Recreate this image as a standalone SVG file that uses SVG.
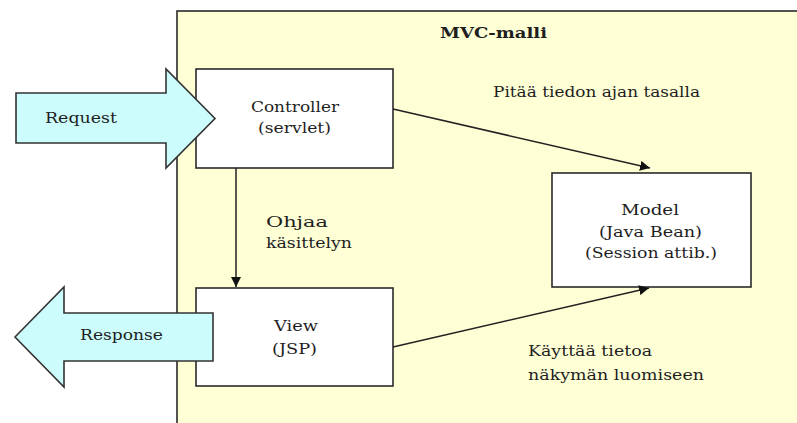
<svg xmlns="http://www.w3.org/2000/svg" width="797" height="423" viewBox="0 0 797 423">
<defs>
<style>
text{font-family:"DejaVu Serif","Liberation Serif",serif;font-size:15px;fill:#1e1e1e}
.b{font-weight:bold}
.box{fill:#ffffff;stroke:#2a2a2a;stroke-width:1.6}
.big{fill:#ffffd6;stroke:#2a2a2a;stroke-width:1.6}
.arrowbig{fill:#cdfcfc;stroke:#333333;stroke-width:1.6;stroke-linejoin:miter}
.con{stroke:#222;stroke-width:1.5;fill:none;marker-end:url(#ah)}
</style>
<marker id="ah" viewBox="0 0 10 10" refX="10" refY="5" markerWidth="10" markerHeight="10" markerUnits="userSpaceOnUse" orient="auto">
<path d="M0,0 L10,5 L0,10 z" fill="#111"/>
</marker>
</defs>
<rect width="797" height="423" fill="#ffffff"/>
<g id="mvc-frame">
<rect class="big" x="177" y="11" width="640" height="430"/>
<text class="b" x="440" y="38" textLength="107" lengthAdjust="spacingAndGlyphs">MVC-malli</text>
</g>
<g id="controller">
<rect class="box" x="196" y="69" width="197" height="99"/>
<text x="251" y="112" textLength="88" lengthAdjust="spacingAndGlyphs">Controller</text>
<text x="258" y="133" textLength="73" lengthAdjust="spacingAndGlyphs">(servlet)</text>
</g>
<g id="view">
<rect class="box" x="196" y="288" width="197" height="98"/>
<text x="274" y="331" textLength="44" lengthAdjust="spacingAndGlyphs">View</text>
<text x="272" y="354" textLength="45" lengthAdjust="spacingAndGlyphs">(JSP)</text>
</g>
<g id="model">
<rect class="box" x="552" y="173" width="199" height="114"/>
<text x="621" y="215" textLength="58" lengthAdjust="spacingAndGlyphs">Model</text>
<text x="599" y="237" textLength="103" lengthAdjust="spacingAndGlyphs">(Java Bean)</text>
<text x="585" y="258" textLength="132" lengthAdjust="spacingAndGlyphs">(Session attib.)</text>
</g>
<g id="connectors">
<line class="con" x1="393" y1="109" x2="650" y2="168"/>
<line class="con" x1="236" y1="168" x2="236" y2="287"/>
<line class="con" x1="393" y1="347" x2="649" y2="288"/>
<text x="493" y="97" textLength="207" lengthAdjust="spacingAndGlyphs">Pitää tiedon ajan tasalla</text>
<text x="266" y="227" textLength="62" lengthAdjust="spacingAndGlyphs">Ohjaa</text>
<text x="266" y="248" textLength="86" lengthAdjust="spacingAndGlyphs">käsittelyn</text>
<text x="528" y="356" textLength="124" lengthAdjust="spacingAndGlyphs">Käyttää tietoa</text>
<text x="528" y="380" textLength="176" lengthAdjust="spacingAndGlyphs">näkymän luomiseen</text>
</g>
<g id="request">
<polygon class="arrowbig" points="16,93 166,93 166,69 215,118.5 166,168 166,143 16,143"/>
<text x="45" y="123" textLength="72" lengthAdjust="spacingAndGlyphs">Request</text>
</g>
<g id="response">
<polygon class="arrowbig" points="15,337 64,287 64,313 213,313 213,361 64,361 64,387"/>
<text x="80" y="340" textLength="83" lengthAdjust="spacingAndGlyphs">Response</text>
</g>
</svg>
